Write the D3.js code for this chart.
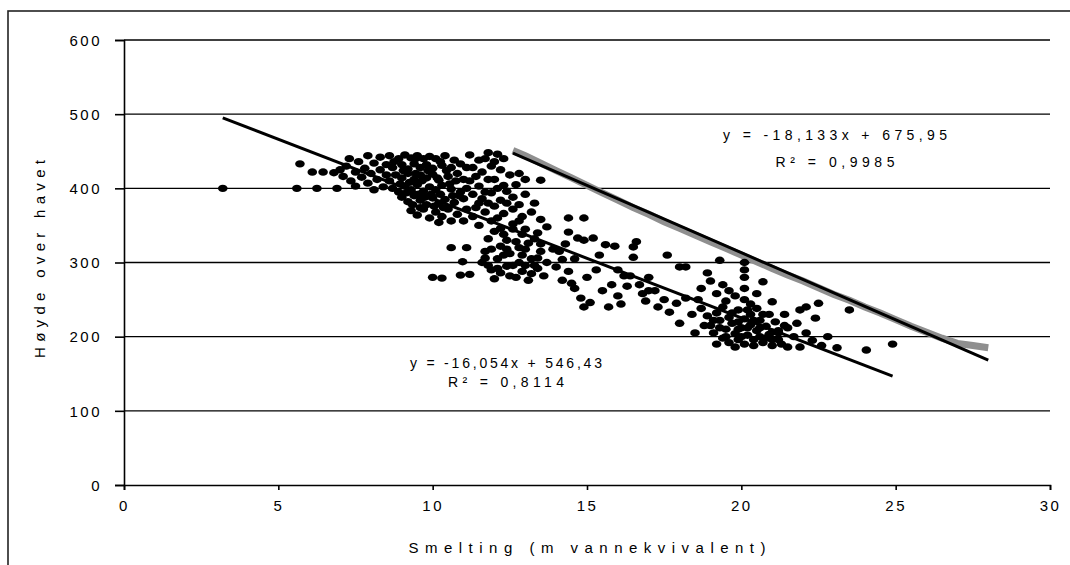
<!DOCTYPE html>
<html><head><meta charset="utf-8">
<script src="https://cdn.jsdelivr.net/npm/d3@7"></script>
<style>
html,body{margin:0;padding:0;background:#fff;}
svg{display:block;}
text{font-family:Arial,"Liberation Sans",sans-serif;fill:#000;}
</style></head>
<body>
<svg id="chart" width="1070" height="565"></svg>
<script>
// ---- data ----
const xTicks = [0,5,10,15,20,25,30];
const yTicks = [0,100,200,300,400,500,600];
const xTitle = "Smelting (m vannekvivalent)";
const yTitle = "Høyde over havet";

// black scatter series [smelting, høyde]
const pointsBlack = [
[3.2,400],[5.6,400],[6.25,400],[5.7,433],[6.1,422],[6.45,422],[6.9,400],[6.8,421],[7.0,425],
[7.1,416],[7.2,430],[7.3,440],[7.35,410],[7.5,422],[7.5,403],[7.6,436],[7.7,415],[7.8,427],[7.9,444],[7.9,407],[8.0,420],[8.1,398],[8.1,434],[8.2,412],[8.3,425],[8.3,442],[8.4,402],[8.5,418],[8.5,432],
[8.6,444],[8.9,440],[9.1,445],[9.3,441],[9.5,444],[9.7,440],[9.9,443],[10.1,440],[10.4,444],
[8.7,428],[9.0,432],[9.2,426],[9.4,433],[9.6,428],[9.8,432],[10.0,427],[10.3,431],[10.6,428],[10.9,433],
[8.6,410],[8.8,418],[9.0,414],[9.2,420],[9.4,412],[9.6,418],[9.8,414],[10.0,419],[10.2,411],[10.5,416],[10.8,420],[11.0,412],
[8.7,400],[8.9,395],[9.1,403],[9.3,398],[9.5,405],[9.7,396],[9.9,402],[10.1,398],[10.3,404],[10.6,399],[10.9,395],
[9.0,388],[9.2,382],[9.4,390],[9.6,384],[9.8,378],[10.0,387],[10.2,380],[10.4,385],[10.7,381],[11.0,386],
[9.3,370],[9.5,364],[9.7,372],[9.9,360],[10.1,368],[10.3,362],[10.5,372],[10.8,365],[11.0,356],
[8.75,436],[9.05,424],[9.25,408],[9.45,420],[9.55,392],[9.65,410],[9.85,424],[9.95,392],[10.15,414],[10.25,392],
[10.45,424],[10.55,406],[10.75,410],[10.85,390],[9.15,394],[9.35,378],[9.75,388],[10.05,376],[10.35,374],[10.65,390],
[8.95,406],[9.45,440],[10.25,436],[10.7,438],[9.6,374],[10.6,356],[10.2,354],[11.1,400],[11.1,372],[11.1,428],
[11.2,445],[11.5,438],[11.8,448],[12.0,436],[12.3,440],[11.3,428],[11.6,422],[11.9,430],[12.2,425],[12.5,418],[12.8,420],[13.0,412],[13.5,411],
[11.2,410],[11.5,403],[11.8,412],[12.1,400],[12.4,396],[12.7,405],[11.3,392],[11.6,386],[11.9,394],[12.2,384],[12.6,388],[13.0,392],[13.3,380],
[11.4,374],[11.7,368],[12.0,376],[12.3,366],[12.6,372],[12.9,362],[13.2,368],[13.5,358],[11.5,350],[11.9,356],[12.2,346],[12.6,352],[13.0,345],[13.4,340],[13.7,348],
[11.4,416],[11.7,395],[12.0,412],[12.3,404],[11.5,380],[11.8,380],[12.4,380],[12.8,378],[12.1,360],[12.8,356],[11.7,440],[12.1,446],[11.3,362],
[10.6,320],[11.1,320],[10.97,301],[10.0,280],[10.3,279],[10.9,283],[11.2,284],[11.6,300],[11.7,315],[11.8,332],[11.9,290],[12.0,278],[12.1,305],[12.2,322],[12.3,338],
[12.4,295],[12.5,282],[12.5,312],[12.7,328],[12.8,300],[12.9,288],[13.0,318],[13.1,276],[13.2,305],[13.3,332],[13.4,292],[13.5,315],[13.6,282],[13.7,300],
[12.0,342],[12.6,345],[11.8,296],[12.2,286],[12.9,310],[13.3,296],[12.4,330],
[11.9,318],[12.3,310],[12.6,296],[12.7,280],[13.0,296],[13.2,285],[12.1,292],[12.4,318],[12.8,320],[13.4,306],[13.1,326],[11.7,306],[12.9,338],[13.5,325],
[14.0,294],[14.2,276],[14.4,288],[14.4,341],[14.4,360],[14.9,360],[14.5,272],[14.7,333],[14.9,330],[15.2,333],[14.8,252],[14.9,240],[15.1,246],[15.5,262],
[15.6,324],[15.8,270],[15.9,322],[16.0,255],[16.1,244],[16.3,268],[16.5,321],[16.6,328],[16.5,307],[14.1,315],[14.6,305],[15.3,290],[15.0,280],[14.3,325],
[16.0,290],[15.4,310],[16.8,258],[17.0,262],[16.4,282],[13.9,318],[14.2,304],[15.7,240],[14.6,265],
[16.2,282],[16.7,270],[17.0,280],[17.2,262],[17.5,250],[17.67,233],[17.9,245],[18.0,218],[18.2,252],[18.4,230],[18.5,205],[17.3,240],[16.9,248],
[17.6,310],[18.0,294],[18.2,294],[18.9,286],[19.3,303],[20.1,300],[20.1,290],[20.1,280],[20.1,265],[20.1,250],[20.7,274],[19.4,270],[19.6,262],[19.8,255],
[19.5,248],[20.3,244],[19.2,258],[21.0,247],[18.7,265],[19.0,275],[18.6,250],[20.5,258],
[18.7,238],[18.9,228],[19.0,215],[19.1,205],[19.2,232],[19.3,222],[19.4,198],[19.5,210],[19.6,226],[19.6,192],[19.7,218],[19.8,204],[19.9,236],[19.9,196],
[20.0,212],[20.1,224],[20.1,190],[20.2,202],[20.3,230],[20.3,216],[20.4,196],[20.5,208],[20.5,238],[20.6,222],[20.7,192],[20.8,214],[20.9,203],[20.9,230],
[21.0,196],[21.1,220],[21.2,208],[21.3,190],[21.4,215],[19.2,190],[19.8,186],[20.6,200],[21.0,188],[19.4,240],[20.2,236],[18.8,215],
[19.3,212],[19.5,200],[19.7,232],[19.9,220],[20.0,200],[20.2,212],[20.4,222],[20.6,212],[20.8,198],[21.0,206],[20.4,188],[19.9,210],[20.7,230],[19.1,222],[21.2,196],
[21.2,205],[21.5,212],[21.8,218],[22.1,205],[21.9,236],[22.1,240],[22.5,245],[23.5,236],[23.1,185],[24.05,182],[21.5,186],[21.9,186],[22.3,195],[22.6,188],
[24.9,190],[21.7,200],[22.4,225],[21.4,230],[22.8,200]
];

// grey scatter series (dense, drawn as a band)
const pointsGrey = [
[12.6,451],[13.0,444],[13.5,434],[14.0,424],[14.5,414],[15.0,404],[15.5,394],[16.0,384],[16.5,374],[17.0,365],
[17.5,355],[18.0,346],[18.5,337],[19.0,328],[19.5,319],[20.0,310],[20.5,301],[21.0,292],[21.5,283],[22.0,275],
[22.5,266],[23.0,257],[23.5,249],[24.0,240],[24.5,232],[25.0,223],[25.5,214],[26.0,206],[26.5,198],[27.0,191],
[27.5,188],[28.0,185]
];

// linear trendlines: slope, intercept, x-range, label lines
const trendSlopes = [-16.054, -18.133];
const trendIntercepts = [546.43, 675.95];
const trendRanges = [[3.2, 24.9], [12.6, 28.0]];
const trendLabels = [["y = -16,054x + 546,43", "R² = 0,8114"], ["y = -18,133x + 675,95", "R² = 0,9985"]];

// ---- drawing ----
const svg = d3.select("#chart");
const x = d3.scaleLinear().domain([0,30]).range([124,1050]);
const y = d3.scaleLinear().domain([0,600]).range([485,40]);

// outer frame
svg.append("rect").attr("x",8).attr("y",11).attr("width",1100).attr("height",600)
  .attr("fill","none").attr("stroke","#222").attr("stroke-width",1.6);

// gridlines
svg.append("g").selectAll("line").data(yTicks.filter(d=>d>0)).join("line")
  .attr("x1",x(0)).attr("x2",x(30)).attr("y1",d=>y(d)).attr("y2",d=>y(d))
  .attr("stroke","#000").attr("stroke-width",1.4);

// axes
const yAxis = d3.axisLeft(y).tickValues(yTicks).tickSize(9).tickPadding(13).tickFormat(d3.format("d"));
const gy = svg.append("g").attr("transform",`translate(${x(0)},0)`).call(yAxis);
const xAxis = d3.axisBottom(x).tickValues(xTicks).tickSize(5).tickPadding(10).tickFormat(d3.format("d"));
const gx = svg.append("g").attr("transform",`translate(0,${y(0)})`).call(xAxis);
[gx,gy].forEach(g=>{
  g.select(".domain").attr("stroke","#000").attr("stroke-width",1.6);
  g.selectAll(".tick line").attr("stroke","#000").attr("stroke-width",1.6);
  g.selectAll(".tick text").attr("font-size",15).attr("letter-spacing","2.5px")
    .attr("font-family","Arial, 'Liberation Sans', sans-serif").attr("fill","#111");
});
gy.selectAll(".tick text").attr("dy","0.35em");

// grey series as a band
svg.append("path").datum(pointsGrey)
  .attr("d", d3.line().x(d=>x(d[0])).y(d=>y(d[1])))
  .attr("fill","none").attr("stroke","#8f8f8f").attr("stroke-width",7).attr("stroke-linecap","butt");

// black points
svg.append("g").selectAll("ellipse").data(pointsBlack).join("ellipse")
  .attr("cx",d=>x(d[0])).attr("cy",d=>y(d[1])).attr("rx",4.8).attr("ry",3.7).attr("fill","#000");

// trendlines
trendSlopes.forEach((m,i)=>{
  const b = trendIntercepts[i], r = trendRanges[i];
  svg.append("line")
    .attr("x1",x(r[0])).attr("y1",y(m*r[0]+b)).attr("x2",x(r[1])).attr("y2",y(m*r[1]+b))
    .attr("stroke","#000").attr("stroke-width",3);
});

// trendline labels
const labelPos = [[506,363,382],[835,135,162]];
const labelWidths = [[192,116],[224,119]];
trendLabels.forEach((lines,i)=>{
  lines.forEach((t,j)=>{
    svg.append("text").attr("x",labelPos[i][0]).attr("y",labelPos[i][1+j]).attr("dy","0.35em")
      .attr("text-anchor","middle").attr("font-size",14)
      .attr("textLength",labelWidths[i][j]).attr("lengthAdjust","spacing")
      .text(t);
  });
});

// axis titles
svg.append("text").attr("x",587).attr("y",548).attr("dy","0.35em").attr("text-anchor","middle")
  .attr("font-size",15).attr("textLength",357).attr("lengthAdjust","spacing").text(xTitle);
svg.append("text").attr("transform","translate(40,259) rotate(-90)").attr("dy","0.35em")
  .attr("text-anchor","middle").attr("font-size",15).attr("textLength",198).attr("lengthAdjust","spacing").text(yTitle);
</script>
</body></html>
